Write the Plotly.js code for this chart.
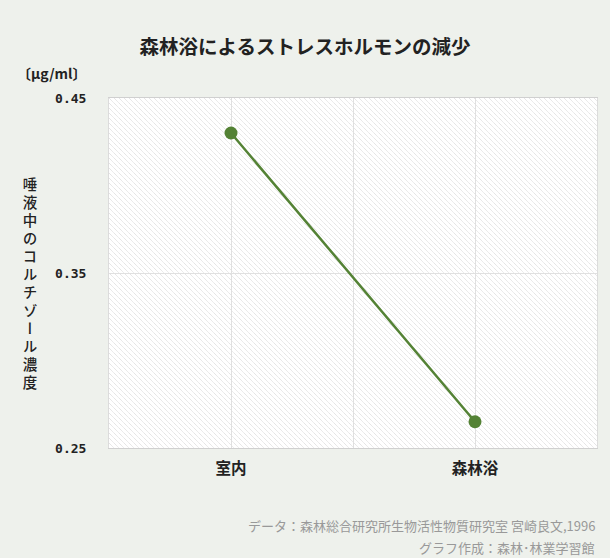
<!DOCTYPE html>
<html><head><meta charset="utf-8">
<script src="https://cdn.plot.ly/plotly-3.0.1.min.js"></script>
<style>html,body{margin:0;padding:0;background:#eef1ec;}</style>
</head><body>
<div id="chart" style="width:610px;height:558px;"></div>
<script>
const categories = ['室内', '森林浴'];
const values = [0.43, 0.265];
const yTicks = [0.25, 0.35, 0.45];
const yTickLabels = ['0.25', '0.35', '0.45'];
const yTitle = '唾液中のコルチゾール濃度';

const xPos = categories.map((c, i) => i);

const hatch = 'data:image/svg+xml;utf8,' + encodeURIComponent(
  '<svg xmlns="http://www.w3.org/2000/svg" width="488" height="350">' +
  '<defs><pattern id="p" width="5" height="5" patternUnits="userSpaceOnUse">' +
  '<path d="M-1,-1 L6,6 M-1,4 L1,6 M4,-1 L6,1" stroke="#d6d6d6" stroke-width="0.9" stroke-dasharray="1,0.6"/></pattern></defs>' +
  '<rect width="488" height="350" fill="#ffffff"/><rect width="488" height="350" fill="url(#p)"/></svg>');

const trace = {
  x: xPos, y: values, type: 'scatter', mode: 'lines+markers',
  line: {color: '#548235', width: 2.5},
  marker: {color: '#548235', size: 13},
  hoverinfo: 'skip'
};

const layout = {
  width: 610, height: 558,
  margin: {l: 109, r: 13, t: 98, b: 110},
  paper_bgcolor: '#eef1ec',
  plot_bgcolor: 'rgba(0,0,0,0)',
  font: {family: '"Noto Sans CJK JP", sans-serif', color: '#222'},
  title: {text: '森林浴によるストレスホルモンの減少', x: 0.5, xref: 'container', xanchor: 'center',
          y: 0.915, yanchor: 'middle',
          font: {size: 19.5, color: '#222', family: '"Noto Sans CJK JP", sans-serif', weight: 'bold'}},
  showlegend: false,
  xaxis: {
    range: [-0.5, 1.5], tickvals: [0, 0.5, 1], ticktext: [categories[0], '', categories[1]],
    showgrid: true, gridcolor: '#e0e0e0', gridwidth: 1, zeroline: false,
    showline: true, linecolor: '#d0d0d0', mirror: true, ticks: '',
    tickfont: {size: 15.5, color: '#222', family: '"Noto Sans CJK JP", sans-serif', weight: 'bold'},
    ticklabelstandoff: 6, fixedrange: true
  },
  yaxis: {
    range: [0.25, 0.45], tickvals: yTicks, ticktext: yTickLabels,
    showgrid: true, gridcolor: '#e0e0e0', gridwidth: 1, zeroline: false,
    showline: true, linecolor: '#dcdcdc', mirror: true, ticks: '',
    tickfont: {size: 13, color: '#222', family: '"DejaVu Sans Mono", monospace', weight: 'bold'},
    ticklabelstandoff: 19, fixedrange: true
  },
  images: [{source: hatch, xref: 'paper', yref: 'paper', x: 0, y: 1, sizex: 1, sizey: 1,
            sizing: 'stretch', xanchor: 'left', yanchor: 'top', layer: 'below'}],
  annotations: [
    {text: '〔μg/ml〕', xref: 'paper', yref: 'paper', x: -0.192, y: 1.07, xanchor: 'left', yanchor: 'middle',
     showarrow: false, font: {size: 14, color: '#222', family: '"Noto Sans CJK JP", sans-serif', weight: 'bold'}},
    {text: yTitle, xref: 'paper', yref: 'paper', x: -0.161, y: 0.463,
     xanchor: 'center', yanchor: 'middle', showarrow: false,
     font: {size: 14.5, color: '#222', family: '"Noto Sans CJK JP", sans-serif', weight: 500}},
    {text: 'データ：森林総合研究所生物活性物質研究室 宮崎良文,1996', xref: 'paper', yref: 'paper',
     x: 1, y: -0.22, xanchor: 'right', yanchor: 'middle', showarrow: false,
     font: {size: 13, color: '#999', family: '"Noto Sans CJK JP", sans-serif'}},
    {text: 'グラフ作成：森林･林業学習館', xref: 'paper', yref: 'paper',
     x: 1, y: -0.283, xanchor: 'right', yanchor: 'middle', showarrow: false,
     font: {size: 13, color: '#999', family: '"Noto Sans CJK JP", sans-serif'}}
  ]
};

const gd = document.getElementById('chart');
Plotly.newPlot(gd, [trace], layout, {displayModeBar: false, staticPlot: true}).then(() => {
  // turn the y-axis title annotation into upright vertical Japanese text
  const t = gd.querySelector('.annotation[data-index="1"] text.annotation-text');
  if (!t) return;
  const bb = t.getBBox();
  const cx = bb.x + bb.width / 2, cy = bb.y + bb.height / 2;
  t.style.writingMode = 'vertical-rl';
  t.style.textOrientation = 'upright';
  t.style.letterSpacing = '3.5px';
  t.setAttribute('text-anchor', 'middle');
  t.setAttribute('x', cx);
  t.setAttribute('y', cy);
});
</script>
</body></html>
